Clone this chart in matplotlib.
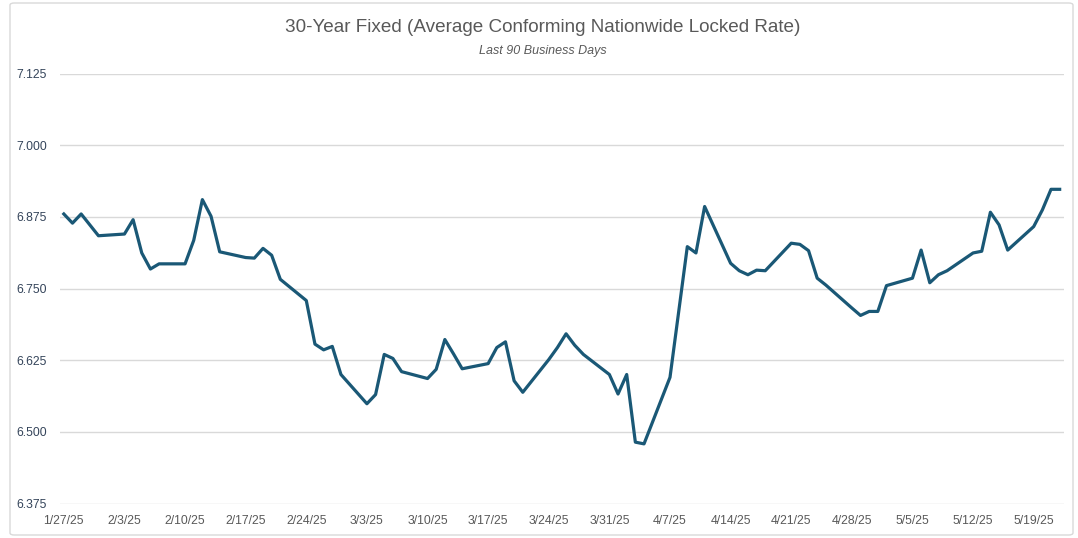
import matplotlib
matplotlib.use('Agg')
import matplotlib.pyplot as plt
import matplotlib.dates as mdates
import pandas as pd
from matplotlib.ticker import FixedLocator, FormatStrFormatter
from matplotlib.patches import FancyBboxPatch

# daily locked rate, business days only
dates = ['2025-01-27', '2025-01-28', '2025-01-29', '2025-01-30', '2025-01-31',
         '2025-02-03', '2025-02-04', '2025-02-05', '2025-02-06', '2025-02-07',
         '2025-02-10', '2025-02-11', '2025-02-12', '2025-02-13', '2025-02-14',
         '2025-02-17', '2025-02-18', '2025-02-19', '2025-02-20', '2025-02-21',
         '2025-02-24', '2025-02-25', '2025-02-26', '2025-02-27', '2025-02-28',
         '2025-03-03', '2025-03-04', '2025-03-05', '2025-03-06', '2025-03-07',
         '2025-03-10', '2025-03-11', '2025-03-12', '2025-03-13', '2025-03-14',
         '2025-03-17', '2025-03-18', '2025-03-19', '2025-03-20', '2025-03-21',
         '2025-03-24', '2025-03-25', '2025-03-26', '2025-03-27', '2025-03-28',
         '2025-03-31', '2025-04-01', '2025-04-02', '2025-04-03', '2025-04-04',
         '2025-04-07', '2025-04-08', '2025-04-09', '2025-04-10', '2025-04-11',
         '2025-04-14', '2025-04-15', '2025-04-16', '2025-04-17', '2025-04-18',
         '2025-04-21', '2025-04-22', '2025-04-23', '2025-04-24', '2025-04-25',
         '2025-04-28', '2025-04-29', '2025-04-30', '2025-05-01', '2025-05-02',
         '2025-05-05', '2025-05-06', '2025-05-07', '2025-05-08', '2025-05-09',
         '2025-05-12', '2025-05-13', '2025-05-14', '2025-05-15', '2025-05-16',
         '2025-05-19', '2025-05-20', '2025-05-21', '2025-05-22']

rates = [6.880, 6.864, 6.880, 6.861, 6.842,
         6.845, 6.870, 6.812, 6.784, 6.793,
         6.793, 6.834, 6.905, 6.876, 6.814,
         6.804, 6.803, 6.820, 6.808, 6.766,
         6.729, 6.653, 6.643, 6.649, 6.600,
         6.549, 6.565, 6.635, 6.628, 6.605,
         6.593, 6.609, 6.661, 6.636, 6.610,
         6.619, 6.647, 6.657, 6.589, 6.569,
         6.626, 6.647, 6.671, 6.651, 6.635,
         6.600, 6.566, 6.600, 6.482, 6.479,
         6.595, 6.709, 6.823, 6.812, 6.893,
         6.794, 6.781, 6.774, 6.782, 6.781,
         6.829, 6.827, 6.816, 6.768, 6.756,
         6.716, 6.703, 6.710, 6.710, 6.755,
         6.768, 6.817, 6.760, 6.774, 6.781,
         6.812, 6.815, 6.883, 6.861, 6.817,
         6.858, 6.887, 6.923, 6.923]

tick_dates = ['2025-01-27', '2025-02-03', '2025-02-10', '2025-02-17', '2025-02-24',
              '2025-03-03', '2025-03-10', '2025-03-17', '2025-03-24', '2025-03-31',
              '2025-04-07', '2025-04-14', '2025-04-21', '2025-04-28', '2025-05-05',
              '2025-05-12', '2025-05-19']
y_ticks = [6.375, 6.500, 6.625, 6.750, 6.875, 7.000, 7.125]

title = '30-Year Fixed (Average Conforming Nationwide Locked Rate)'
subtitle = 'Last 90 Business Days'

fonts = ['Liberation Sans', 'DejaVu Sans']
txt_color = '#595959'
ylab_color = '#34445a'
line_color = '#1a5876'
grid_color = '#d9d9d9'

x = pd.to_datetime(dates)
xt = pd.to_datetime(tick_dates)

fig = plt.figure(figsize=(10.78, 5.38), dpi=100)
ax = fig.add_axes([59.5 / 1078, 1 - 503.5 / 538, (1064 - 59.5) / 1078, 430 / 538])

# outer frame of the chart
fig.patches.append(FancyBboxPatch((10 / 1078, 3 / 538), 1063 / 1078, 532 / 538,
                                  boxstyle='round,pad=0,rounding_size=0.004',
                                  transform=fig.transFigure, fill=False,
                                  edgecolor=grid_color, linewidth=1.0))

ax.plot(x, rates, color=line_color, linewidth=2.3, solid_joinstyle='round')

ax.set_ylim(6.375, 7.125)
ax.yaxis.set_major_locator(FixedLocator(y_ticks))
ax.yaxis.set_major_formatter(FormatStrFormatter('%.3f'))
ax.set_xlim(x[0] - pd.Timedelta(hours=12), x[-1] + pd.Timedelta(hours=12))
ax.set_xticks(xt)
ax.xaxis.set_major_formatter(mdates.DateFormatter('%-m/%-d/%y'))

ax.grid(axis='y', color=grid_color, linewidth=1.0)
ax.set_axisbelow(True)
for s in ax.spines.values():
    s.set_visible(False)
ax.tick_params(length=0, labelsize=8.8)
ax.tick_params(axis='x', pad=8, colors=txt_color)
ax.tick_params(axis='y', pad=9, colors=ylab_color)
for lbl in ax.get_xticklabels() + ax.get_yticklabels():
    lbl.set_family(fonts)

fig.text(543 / 1078, 1 - 28 / 538, title, ha='center', va='center',
         fontsize=13.6, color=txt_color, family=fonts)
fig.text(543 / 1078, 1 - 51 / 538, subtitle, ha='center', va='center',
         fontsize=9, style='italic', color=txt_color, family=fonts)

fig.savefig('out.png', dpi=100)
